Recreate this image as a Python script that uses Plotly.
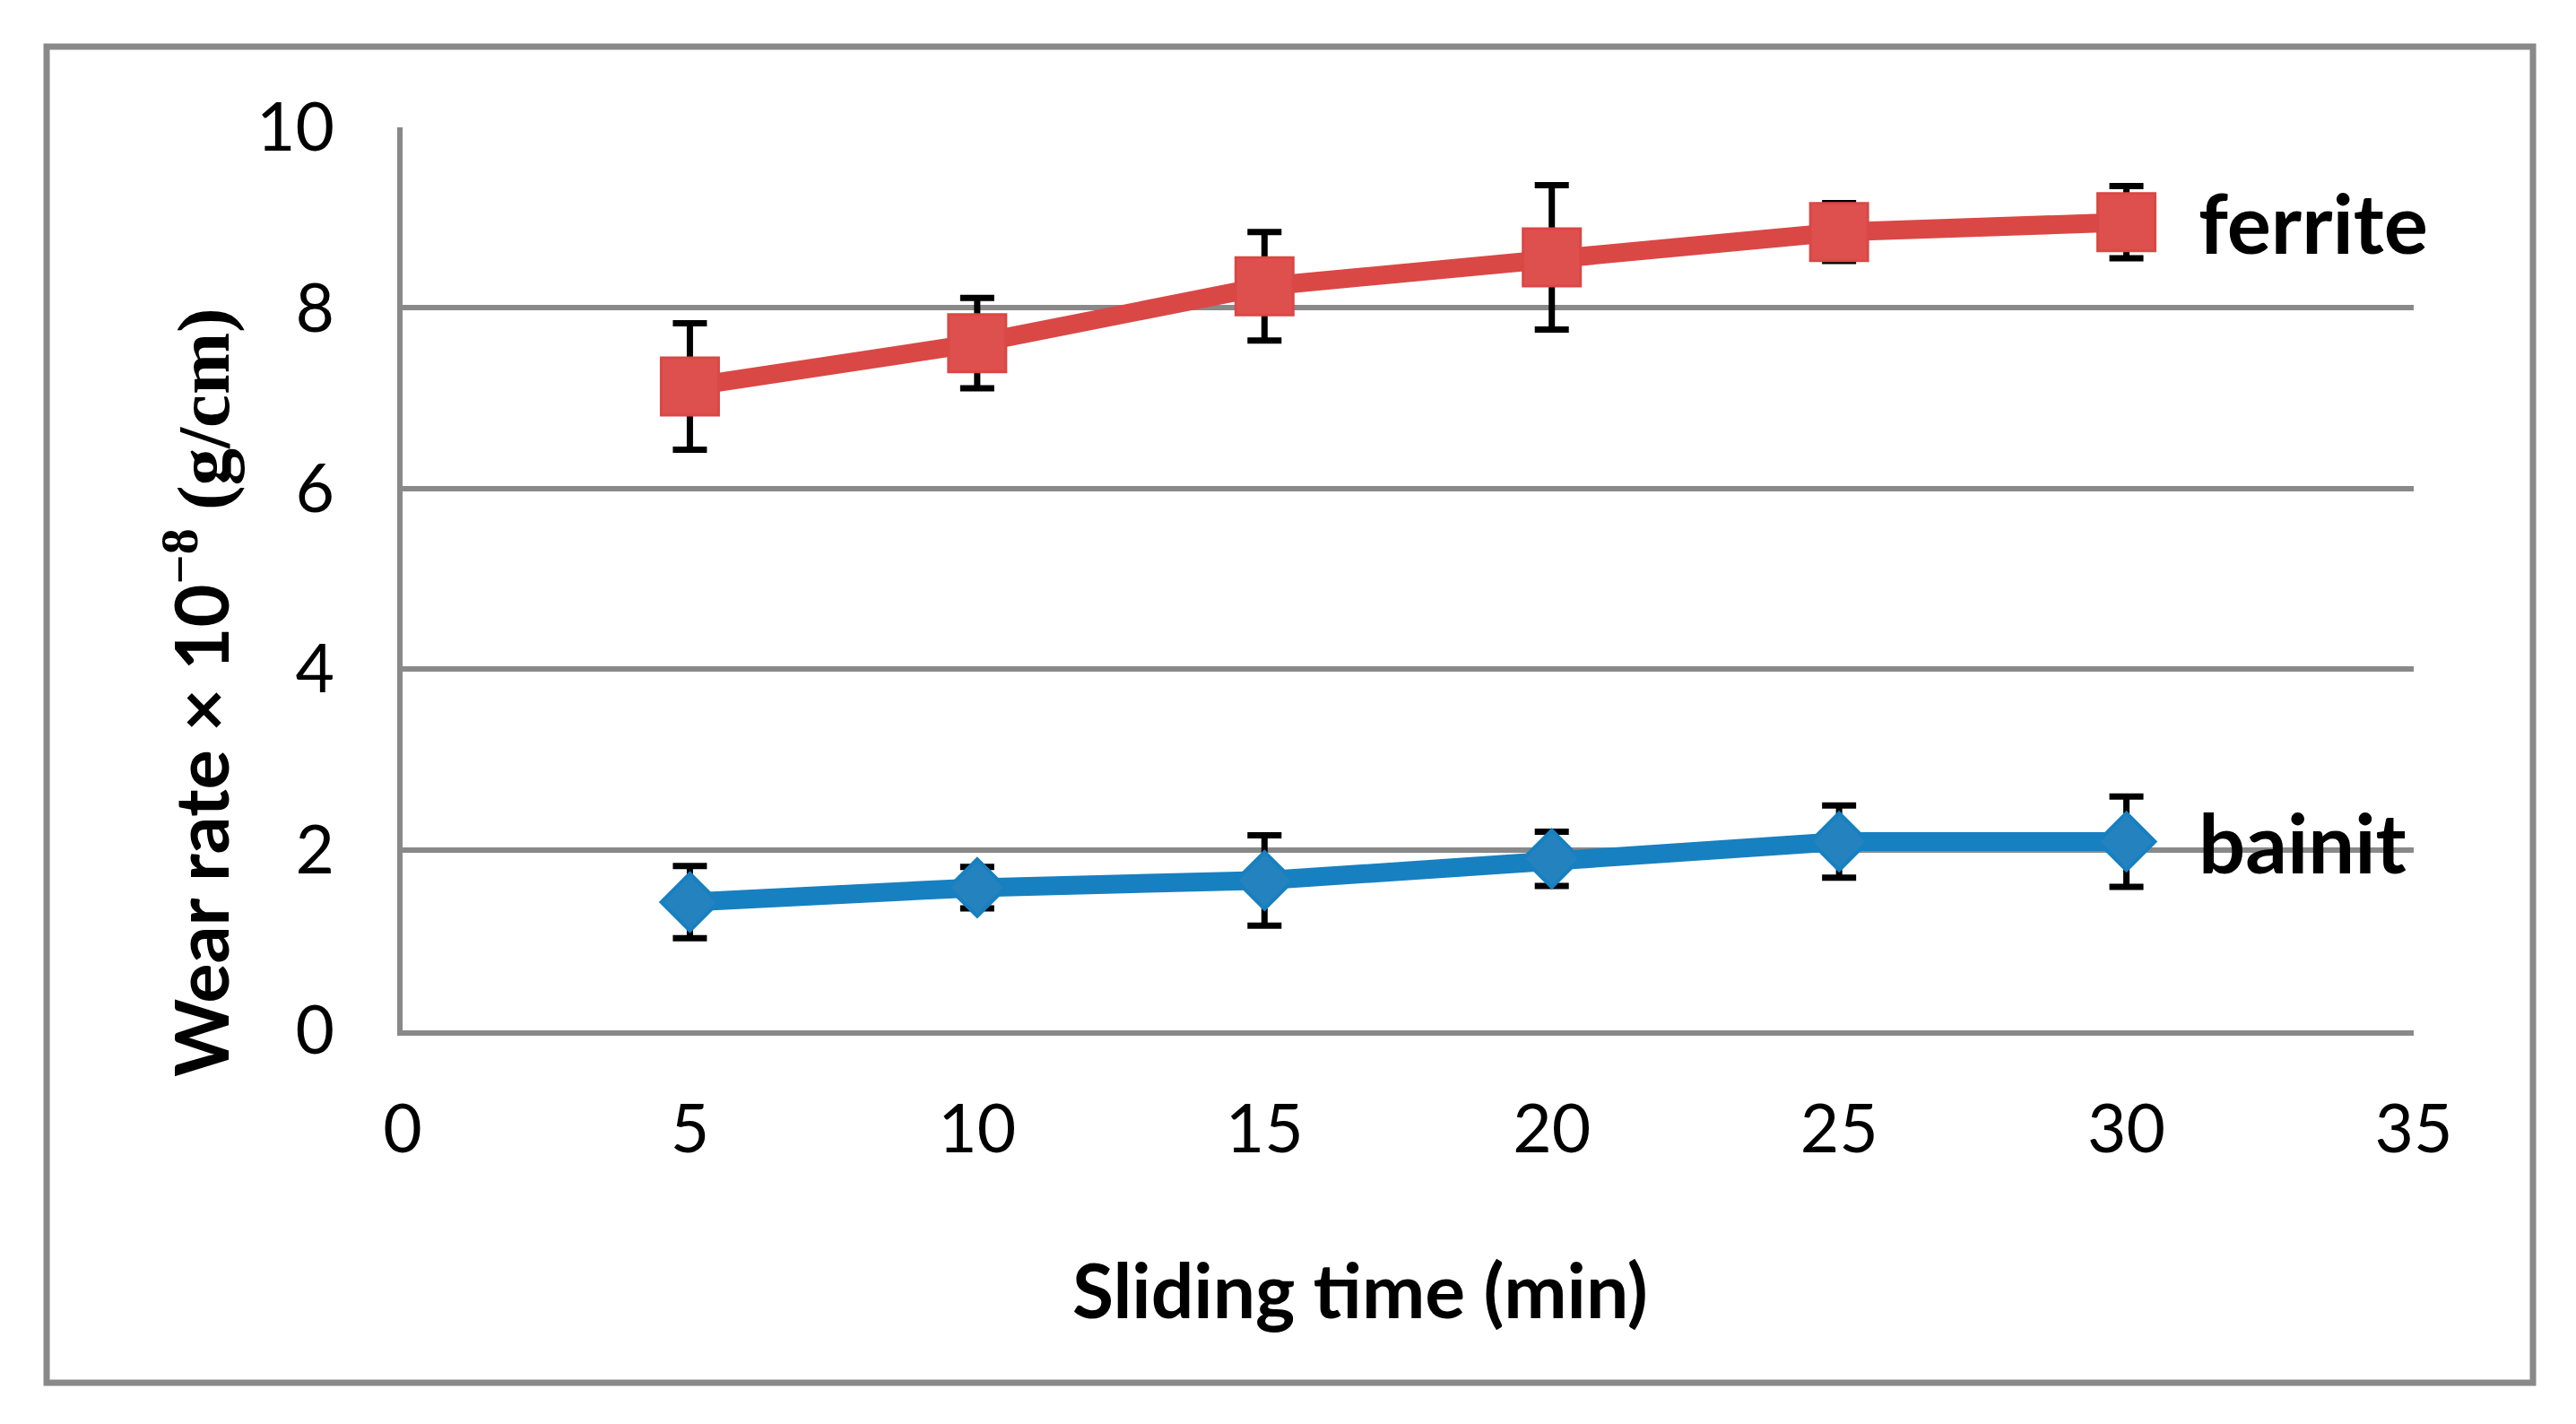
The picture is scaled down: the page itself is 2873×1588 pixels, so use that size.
import plotly.graph_objects as go

# ---- data ----
sliding_time = [5, 10, 15, 20, 25, 30]
ferrite = [7.13, 7.61, 8.24, 8.56, 8.84, 8.95]
ferrite_err = [0.70, 0.50, 0.60, 0.80, 0.32, 0.40]
bainit = [1.42, 1.58, 1.66, 1.90, 2.09, 2.09]
bainit_err = [0.40, 0.23, 0.50, 0.30, 0.40, 0.50]
x_ticks = [0, 5, 10, 15, 20, 25, 30, 35]
y_ticks = [0, 2, 4, 6, 8, 10]

W, H = 2873, 1588
L, R, T, B = 449, 181, 142, 439
pw, ph = W - L - R, H - T - B

def px_x(p):
    return (p - L) / pw

def px_y(p):
    return (H - B - p) / ph

GRID = "#898989"
RED_LINE = "#D94845"
RED_FILL = "#DE504E"
BLUE_LINE = "#1780C0"
BLUE_FILL = "#2482BF"

fig = go.Figure()

fig.add_trace(go.Scatter(
    x=sliding_time, y=ferrite, mode="lines+markers", name="ferrite",
    line=dict(color=RED_LINE, width=21),
    marker=dict(symbol="square", size=64, color=RED_FILL,
                line=dict(color=RED_LINE, width=3)),
    error_y=dict(type="data", array=ferrite_err, visible=True,
                 color="black", thickness=7, width=19),
))

fig.add_trace(go.Scatter(
    x=sliding_time, y=bainit, mode="lines+markers", name="bainit",
    line=dict(color=BLUE_LINE, width=21),
    marker=dict(symbol="diamond", size=49, color=BLUE_FILL,
                line=dict(color=BLUE_LINE, width=4)),
    error_y=dict(type="data", array=bainit_err, visible=True,
                 color="black", thickness=7, width=19),
))

annotations = [
    dict(x=sliding_time[-1], y=ferrite[-1], xref="x", yref="y",
         text="ferrite", showarrow=False, xanchor="left", yanchor="middle",
         xshift=78, font=dict(family="Lato", size=92, color="black", weight="bold")),
    dict(x=sliding_time[-1], y=bainit[-1], xref="x", yref="y",
         text="bainit", showarrow=False, xanchor="left", yanchor="middle",
         xshift=78, font=dict(family="Lato", size=92, color="black", weight="bold")),
    dict(x=px_x(1517), y=px_y(1437), xref="paper", yref="paper",
         text="Sliding time (min)", showarrow=False, xanchor="center", yanchor="middle",
         font=dict(family="Lato", size=84, color="black", weight="bold")),
    dict(x=px_x(220), y=px_y(772), xref="paper", yref="paper",
         text=("Wear rate × 10<sup><span style=\"font-family:'Liberation Serif'\">−8</span></sup>"
               " <span style=\"font-family:'Liberation Serif'\">(g/cm)</span>"),
         showarrow=False, textangle=-90, xanchor="center", yanchor="middle",
         font=dict(family="Lato", size=83, color="black", weight="bold")),
]

shapes = [
    dict(type="rect", xref="paper", yref="paper",
         x0=px_x(52), x1=px_x(2825), y0=px_y(1542), y1=px_y(52),
         line=dict(color=GRID, width=7), fillcolor="rgba(0,0,0,0)", layer="below"),
]

fig.update_layout(
    width=W, height=H,
    margin=dict(l=L, r=R, t=T, b=B),
    paper_bgcolor="white", plot_bgcolor="white",
    showlegend=False,
    annotations=annotations,
    shapes=shapes,
    font=dict(family="Lato", color="black"),
)

fig.update_xaxes(
    range=[0, 35], tickvals=x_ticks, ticktext=[str(v) for v in x_ticks],
    showgrid=False, zeroline=False,
    showline=True, linecolor=GRID, linewidth=6,
    ticks="", ticklabelstandoff=40,
    tickfont=dict(family="Lato", size=75, color="black"),
)
fig.update_yaxes(
    range=[0, 10], tickvals=y_ticks, ticktext=[str(v) for v in y_ticks],
    showgrid=True, gridcolor=GRID, gridwidth=6, zeroline=False,
    showline=True, linecolor=GRID, linewidth=6,
    ticks="", ticklabelstandoff=55,
    tickfont=dict(family="Lato", size=75, color="black"),
)

fig.write_html("out.html", config={"displayModeBar": False},
               post_script="document.body.style.margin='0';")
